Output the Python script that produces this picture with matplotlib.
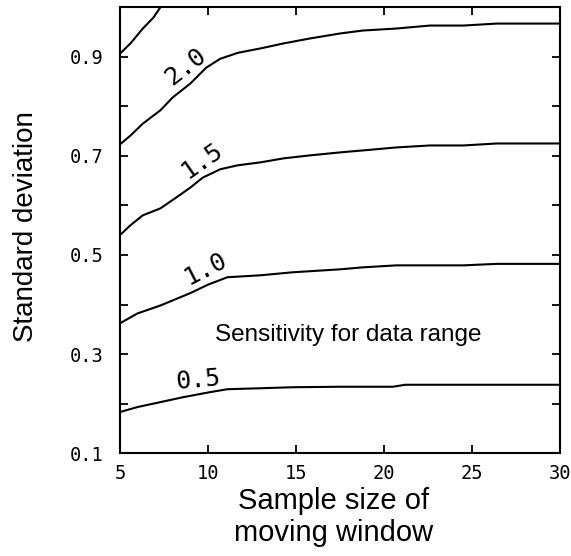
import matplotlib.pyplot as plt
from matplotlib.ticker import MultipleLocator

# contour lines: sample size vs standard deviation
lvl_05_x = [5, 6, 7.3, 8.6, 10.1, 11.1, 13, 14.8, 17.5, 20.5, 21.2, 25, 30]
lvl_05_y = [0.183, 0.193, 0.203, 0.213, 0.223, 0.229, 0.231, 0.233, 0.234, 0.234, 0.238, 0.238, 0.238]

lvl_10_x = [5, 6, 7.3, 9, 10, 11.1, 13, 14.8, 17.5, 18.8, 20.7, 24.5, 26.4, 30]
lvl_10_y = [0.362, 0.382, 0.398, 0.423, 0.440, 0.455, 0.459, 0.465, 0.471, 0.475, 0.479, 0.479, 0.482, 0.482]

lvl_15_x = [5, 5.6, 6.3, 7.3, 8.2, 9, 9.7, 10.7, 11.7, 13, 14.3, 15.8, 17.5, 18.8, 20.7, 22.6, 24.5, 26.4, 28.3, 30]
lvl_15_y = [0.540, 0.560, 0.580, 0.594, 0.616, 0.636, 0.656, 0.673, 0.681, 0.687, 0.695, 0.701, 0.707, 0.711, 0.717, 0.721, 0.721, 0.725, 0.725, 0.725]

lvl_20_x = [5, 5.6, 6.3, 7.3, 8, 9, 9.9, 10.7, 11.7, 13, 14.3, 15.8, 17.5, 18.8, 20.7, 22.6, 24.5, 26.4, 28.3, 30]
lvl_20_y = [0.723, 0.741, 0.765, 0.792, 0.818, 0.846, 0.878, 0.896, 0.908, 0.917, 0.927, 0.937, 0.947, 0.953, 0.957, 0.963, 0.963, 0.967, 0.967, 0.967]

lvl_25_x = [5, 5.6, 6.3, 6.9, 7.3]
lvl_25_y = [0.906, 0.927, 0.957, 0.979, 1.0]

xticks = [5, 10, 15, 20, 25, 30]
yticks = [0.1, 0.3, 0.5, 0.7, 0.9]

mono = 'DejaVu Sans Mono'
sans = 'Liberation Sans'

fig = plt.figure(figsize=(5.71, 5.56), dpi=100)
ax = fig.add_axes([0.210, 0.185, 0.771, 0.802])

for xs, ys in [(lvl_05_x, lvl_05_y), (lvl_10_x, lvl_10_y), (lvl_15_x, lvl_15_y),
               (lvl_20_x, lvl_20_y), (lvl_25_x, lvl_25_y)]:
    ax.plot(xs, ys, color='black', lw=1.5, solid_capstyle='butt')

# contour labels
lab = dict(fontsize=18, family=mono, ha='center', va='center', rotation_mode='anchor')
ax.text(9.43, 0.247, '0.5', rotation=5, **lab)
ax.text(9.9, 0.472, '1.0', rotation=27, **lab)
ax.text(9.68, 0.690, '1.5', rotation=35, **lab)
ax.text(8.7, 0.880, '2.0', rotation=38, **lab)

ax.text(17.95, 0.338, 'Sensitivity for data range', fontsize=17.5, family=sans,
        ha='center', va='center')

ax.set_xlim(5, 30)
ax.set_ylim(0.1, 1.0)
ax.set_xticks(xticks)
ax.set_xticklabels([str(v) for v in xticks], family=mono, fontsize=13.5)
ax.set_yticks(yticks)
ax.set_yticklabels(['%.1f' % v for v in yticks], family=mono, fontsize=13.5)
ax.yaxis.set_minor_locator(MultipleLocator(0.1))
ax.tick_params(which='both', direction='in', length=6, width=1.3,
               top=True, right=True)
ax.tick_params(axis='x', pad=8)
ax.tick_params(axis='y', pad=12)
for s in ax.spines.values():
    s.set_linewidth(1.5)

ax.set_xlabel('Sample size of\nmoving window', family=sans, fontsize=21)
ax.xaxis.set_label_coords(0.486, -0.076)
ax.set_ylabel('Standard deviation', family=sans, fontsize=20)
ax.yaxis.set_label_coords(-0.184, 0.509)

fig.savefig('out.png', dpi=100)
